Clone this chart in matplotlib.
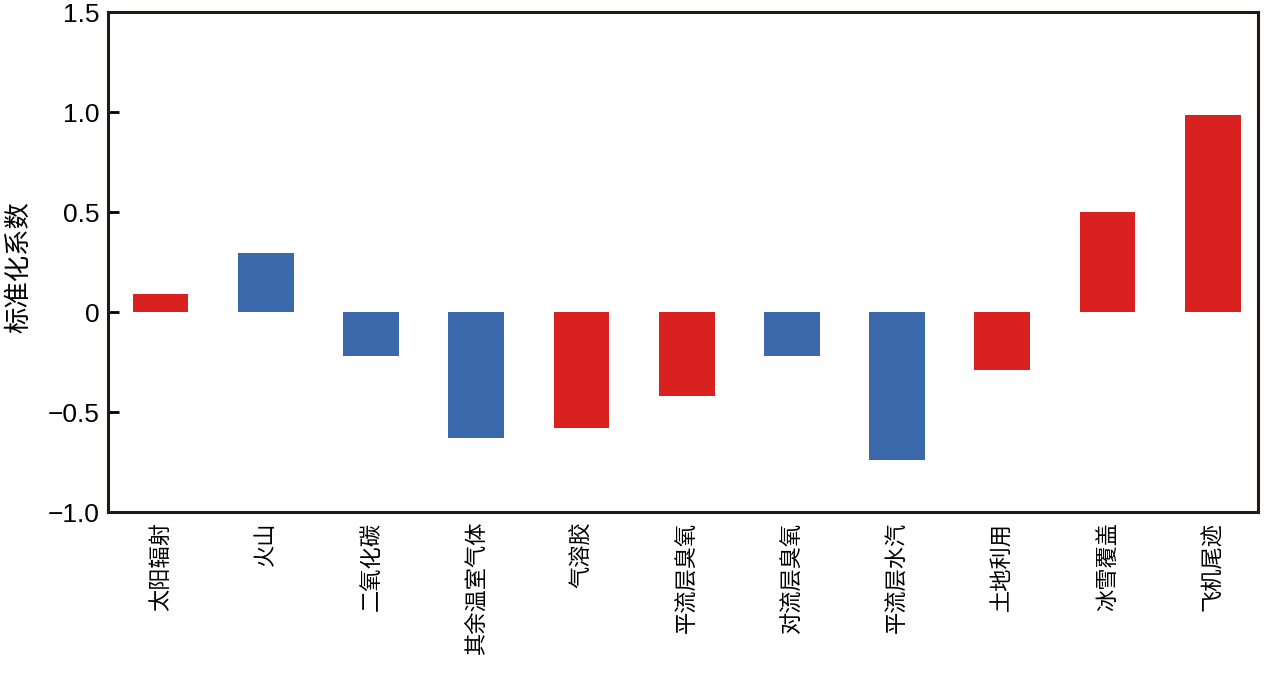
import matplotlib
matplotlib.use('Agg')
import matplotlib.pyplot as plt

plt.rcParams['font.family'] = ['Liberation Sans', 'Noto Sans CJK SC', 'DejaVu Sans']

factors = ['太阳辐射', '火山', '二氧化碳', '其余温室气体', '气溶胶', '平流层臭氧',
           '对流层臭氧', '平流层水汽', '土地利用', '冰雪覆盖', '飞机尾迹']
coefs = [0.09, 0.295, -0.22, -0.63, -0.58, -0.42, -0.22, -0.74, -0.29, 0.5, 0.985]
groups = ['r', 'b', 'b', 'b', 'r', 'r', 'b', 'b', 'r', 'r', 'r']
yticks = [-1.0, -0.5, 0, 0.5, 1.0, 1.5]
ytick_labels = ['\u22121.0', '\u22120.5', '0', '0.5', '1.0', '1.5']

palette = {'r': '#d9221f', 'b': '#3b67ab'}
cjk = ['Noto Sans CJK SC', 'DejaVu Sans']

fig = plt.figure(figsize=(12.68, 6.88), dpi=100)
ax = fig.add_axes([108 / 1268, 1 - 512 / 688, 1150 / 1268, 500 / 688])

xs = list(range(len(factors)))
ax.bar(xs, coefs, width=0.53, color=[palette[g] for g in groups])

ax.set_xlim(-0.5, len(factors) - 0.57)
ax.set_ylim(-1.0, 1.5)
ax.set_yticks(yticks)
ax.set_yticklabels(ytick_labels, fontsize=19)
ax.set_xticks(xs)
ax.set_xticklabels(factors, rotation=90, fontsize=16, family=cjk,
                   fontweight='light', va='top')
ax.tick_params(axis='y', direction='in', length=8, width=2, pad=6)
ax.tick_params(axis='x', length=0, pad=7)
for sp in ax.spines.values():
    sp.set_linewidth(2.2)
    sp.set_color('#231815')

ax.set_ylabel('标准化系数', fontsize=19, family=cjk, fontweight='light')
ax.yaxis.set_label_coords(-0.066, 0.49)

fig.savefig('out.png', dpi=100)
